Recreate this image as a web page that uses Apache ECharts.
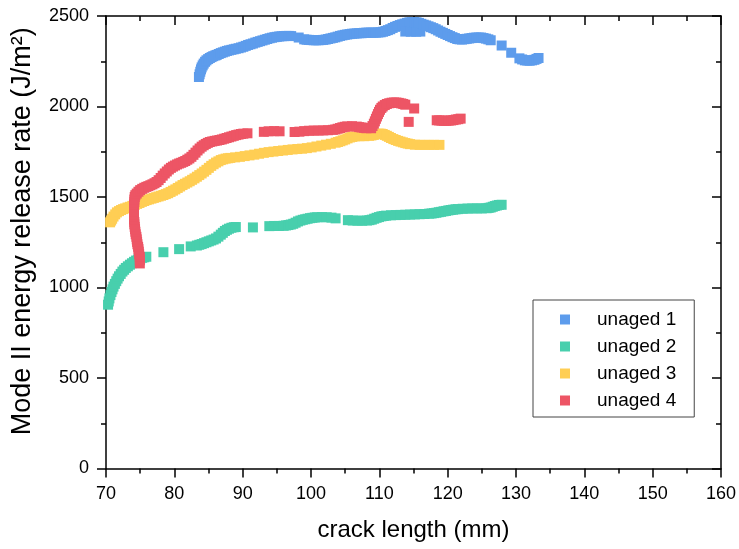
<!DOCTYPE html>
<html>
<head>
<meta charset="utf-8">
<script src="https://cdn.jsdelivr.net/npm/echarts@6/dist/echarts.min.js"></script>
<style>html,body{margin:0;padding:0;background:#fff;}#c{width:739px;height:549px;}</style>
</head>
<body>
<div id="c"></div>
<script>
var seriesNames = ['unaged 1', 'unaged 2', 'unaged 3', 'unaged 4'];
var seriesColors = ['#5D9CEC', '#48CFAD', '#FFCE54', '#ED5565'];
var xTicks = [70, 80, 90, 100, 110, 120, 130, 140, 150, 160];
var yTicks = [0, 500, 1000, 1500, 2000, 2500];

var unaged1 = [
[83.6,2163],[83.7,2178],[83.8,2192],[83.9,2205],[84.0,2216],[84.15,2227],[84.3,2237],[84.5,2247],[84.7,2255],[84.95,2262],[85.2,2268],[85.45,2273],[85.7,2278],[86.0,2282],[86.2,2285],[86.5,2290],
[86.8,2295],[87.1,2299],[87.4,2303],[87.7,2307],[88.0,2310],[88.35,2313],[88.7,2316],[89.0,2319],[89.4,2322],[89.75,2326],[90.1,2330],[90.45,2335],[90.8,2340],[91.15,2344],[91.5,2348],
[91.85,2353],[92.2,2357],[92.55,2361],[92.9,2365],[93.25,2369],[93.6,2373],[93.95,2377],[94.3,2380],[94.65,2383],[95.0,2385],[95.35,2387],[95.7,2388],[96.05,2389],[96.4,2390],[96.75,2390],[97.1,2389],
[98.2,2381],[99.0,2371],[99.35,2369],[99.7,2368],[100.05,2367],[100.4,2366],[100.75,2366],[101.1,2366],[101.45,2367],[101.8,2368],[102.15,2370],[102.5,2373],[102.85,2376],[103.2,2379],
[103.55,2382],[103.9,2386],[104.25,2390],[104.6,2393],[104.95,2396],[105.3,2398],[105.65,2400],[106.0,2402],[106.35,2403],[106.7,2404],[107.05,2405],[107.4,2405],[107.75,2407],[108.1,2408],[108.45,2408],[108.8,2408],
[109.15,2408],[109.5,2408],[109.85,2409],[110.2,2410],[110.55,2413],[110.9,2417],[111.25,2422],[111.6,2427],[111.95,2434],[112.3,2440],[112.65,2445],[113.0,2450],[113.35,2454],[113.7,2458],[114.05,2462],[114.4,2465],
[113.8,2414],[114.6,2413],[115.4,2413],[116.0,2414],
[114.75,2466],[115.1,2467],[115.45,2465],[115.8,2462],[116.15,2457],[116.5,2452],[116.85,2448],[117.2,2443],[117.55,2438],[117.9,2433],[118.25,2427],[118.6,2420],[118.95,2413],[119.3,2407],[119.65,2401],[120.0,2395],
[120.35,2389],[120.7,2383],[121.05,2378],[121.4,2373],[121.75,2371],[122.1,2370],[122.45,2372],[122.8,2374],[123.15,2376],[123.5,2378],[123.85,2380],[124.2,2381],[124.55,2381],[124.9,2381],[125.25,2378],[125.6,2375],
[125.95,2371],[126.3,2366],[127.9,2337],[129.3,2297],[130.5,2266],[130.9,2260],[131.3,2255],[131.65,2254],[132.0,2253],[132.35,2255],[132.7,2258],[133.0,2263],[133.3,2268]
];
var unaged2 = [
[70.3,905],[70.4,923],[70.5,940],[70.65,958],[70.8,975],[70.95,990],[71.1,1005],[71.3,1020],[71.5,1035],[71.7,1049],[71.9,1062],[72.15,1075],[72.4,1088],[72.65,1098],[72.9,1108],[73.2,1117],
[73.5,1126],[73.8,1134],[74.1,1142],[74.4,1149],[74.7,1155],[75.0,1160],[75.3,1164],[75.6,1167],[75.9,1170],
[78.4,1195],[80.7,1212],[82.4,1227],
[83.3,1232],[83.65,1236],[84.0,1240],[84.35,1245],[84.7,1250],[85.05,1255],[85.4,1260],[85.75,1265],[86.1,1271],[86.45,1281],[86.8,1292],[87.1,1302],[87.4,1312],[87.7,1319],[88.0,1325],
[88.35,1330],[88.7,1333],[89.0,1334],
[91.5,1332],
[93.9,1339],[94.6,1340],[95.3,1340],[96.0,1341],[96.35,1343],[96.7,1345],[97.05,1348],[97.4,1352],[97.75,1358],[98.1,1365],[98.45,1370],[98.8,1374],
[99.15,1377],[99.5,1380],[99.85,1383],[100.2,1385],[100.55,1387],[100.9,1388],[101.6,1389],[102.3,1388],[103.0,1386],[103.6,1382],
[105.4,1372],[106.1,1370],[106.8,1369],[107.5,1369],[108.2,1370],[108.55,1372],[108.9,1375],[109.25,1380],[109.6,1385],[109.95,1389],[110.3,1393],
[110.65,1395],[111.0,1397],[111.7,1399],[112.4,1400],[113.1,1401],[113.8,1402],[114.5,1403],[115.2,1404],[115.9,1405],
[116.6,1406],[117.3,1408],[117.65,1409],[118.0,1411],[118.35,1413],[118.7,1416],[119.05,1418],[119.4,1421],[119.75,1423],[120.1,1426],[120.45,1428],[120.8,1430],[121.15,1432],[121.5,1433],
[122.2,1435],[122.9,1436],[123.6,1437],[124.3,1437],[125.0,1437],[125.7,1438],[126.0,1440],[126.3,1442],[126.6,1446],[126.9,1450],[127.2,1453],
[127.5,1456],[127.9,1457]
];
var unaged3 = [
[70.6,1360],[70.75,1370],[70.9,1380],[71.1,1392],[71.35,1404],[71.6,1415],[71.9,1422],[72.2,1428],[72.5,1433],[72.8,1437],[73.15,1442],[73.5,1446],[73.85,1451],[74.2,1456],[74.55,1462],[74.9,1467],
[75.25,1473],[75.6,1478],[75.95,1483],[76.3,1487],[76.65,1491],[77.0,1495],[77.35,1499],[77.7,1503],[78.05,1507],[78.4,1511],[78.75,1516],[79.1,1521],[79.45,1528],[79.8,1535],[80.15,1542],[80.5,1550],
[80.85,1558],[81.2,1566],[81.55,1573],[81.9,1580],[82.25,1587],[82.6,1595],[82.95,1603],[83.3,1612],[83.65,1621],[84.0,1630],[84.35,1640],[84.7,1650],[85.05,1661],[85.4,1672],[85.75,1681],[86.1,1690],
[86.45,1697],[86.8,1704],[87.15,1708],[87.5,1712],[87.85,1714],[88.2,1716],[88.9,1719],[89.6,1722],[90.3,1726],[91.0,1730],[91.7,1734],
[92.4,1739],[93.1,1744],[93.8,1748],[94.5,1751],[95.2,1754],[95.9,1757],[96.6,1760],[97.3,1763],
[98.0,1765],[98.7,1767],[99.4,1770],[100.1,1774],[100.8,1779],[101.5,1784],[102.2,1789],[102.9,1794],
[103.6,1800],[103.95,1804],[104.3,1808],[104.65,1813],[105.0,1818],[105.35,1824],[105.7,1829],[106.05,1832],[106.4,1835],[107.1,1836],[107.8,1836],[108.5,1838],
[108.85,1840],[109.2,1843],[109.55,1847],[109.9,1850],[110.2,1850],[110.5,1848],[110.8,1843],[111.1,1838],[111.4,1832],[111.7,1826],[112.05,1820],[112.4,1815],[112.75,1810],[113.1,1806],[113.45,1802],[113.8,1798],
[114.15,1795],[114.5,1792],[115.2,1789],[115.9,1788],[116.6,1788],[117.3,1788],[118.0,1788],[118.8,1788]
];
var unaged4 = [
[74.95,1133],[74.95,1151],[74.95,1169],[74.85,1184],[74.8,1198],[74.75,1212],[74.7,1225],[74.6,1239],[74.55,1252],[74.5,1266],[74.45,1280],[74.35,1294],[74.3,1308],[74.25,1322],[74.2,1335],
[74.15,1349],[74.15,1362],[74.1,1376],[74.1,1390],[74.1,1404],[74.1,1418],[74.1,1432],[74.1,1445],[74.1,1459],[74.15,1472],[74.15,1486],[74.2,1500],[74.3,1510],[74.5,1519],[74.75,1529],[75.0,1538],
[75.3,1545],[75.6,1551],[75.9,1556],[76.2,1560],[76.5,1565],[76.8,1570],[77.1,1576],[77.4,1583],[77.7,1593],[78.0,1605],[78.3,1618],[78.6,1630],[78.9,1641],[79.2,1652],[79.5,1661],[79.8,1668],
[80.1,1674],[80.4,1680],[80.7,1685],[81.0,1689],[81.3,1694],[81.6,1699],[81.9,1706],[82.2,1713],[82.5,1722],[82.8,1733],[83.1,1745],[83.4,1757],[83.7,1768],[84.0,1778],[84.3,1786],[84.6,1793],
[84.9,1799],[85.2,1804],[85.55,1807],[85.9,1810],[86.25,1812],[86.6,1815],[86.95,1818],[87.3,1822],[87.65,1826],[88.0,1830],[88.35,1834],[88.7,1838],[89.05,1842],[89.4,1845],[89.75,1848],[90.1,1850],
[90.7,1852],
[93.1,1860],[93.8,1863],[94.6,1864],[95.4,1863],
[97.6,1859],[98.3,1861],[99.0,1864],[99.7,1866],[100.4,1867],[101.1,1867],[101.8,1868],[102.5,1869],
[103.2,1871],[103.55,1873],[103.9,1877],[104.25,1881],[104.6,1885],[104.95,1888],[105.3,1890],[106.0,1891],[106.7,1889],[107.05,1886],[107.4,1884],[107.75,1882],[108.1,1880],
[108.8,1880],[109.0,1892],[109.2,1905],[109.35,1918],[109.5,1932],[109.65,1945],[109.8,1958],[109.95,1970],[110.1,1982],[110.3,1992],[110.5,2000],[110.8,2008],[111.1,2014],[111.45,2018],[111.8,2021],
[112.15,2022],[112.5,2022],[112.85,2020],[113.2,2017],[113.5,2014],[113.8,2010],
[115.1,1989],[114.3,1915],
[118.4,1924],[118.75,1923],[119.1,1922],[119.45,1921],[119.8,1921],[120.15,1922],[120.5,1923],[120.85,1925],[121.2,1928],[121.55,1930],[121.9,1933]
];

var dataSets = [unaged1, unaged2, unaged3, unaged4];
var FONT = '"Liberation Sans", Arial, sans-serif';

var axisLine = { show: true, onZero: false, lineStyle: { color: '#000', width: 1.5 } };
function plain(v) { return String(v); }
function xAxis(pos, primary) {
  return {
    type: 'value', position: pos, min: xTicks[0], max: xTicks[xTicks.length - 1], interval: 10,
    axisLine: axisLine,
    axisTick: { show: true, inside: !primary, length: 9, lineStyle: { color: '#000', width: 1.5 } },
    minorTick: { show: true, splitNumber: 2, length: 5, lineStyle: { color: '#000', width: 1.5 } },
    splitLine: { show: false }, minorSplitLine: { show: false },
    axisLabel: { show: primary, fontSize: 18, fontFamily: FONT, color: '#000', margin: 17, formatter: plain },
    name: primary ? 'crack length (mm)' : '', nameLocation: 'middle', nameGap: 50,
    nameTextStyle: { fontSize: 24, fontFamily: FONT, color: '#000' }
  };
}
function yAxis(pos, primary) {
  return {
    type: 'value', position: pos, min: yTicks[0], max: yTicks[yTicks.length - 1], interval: 500,
    axisLine: axisLine,
    axisTick: { show: true, inside: !primary, length: 9, lineStyle: { color: '#000', width: 1.5 } },
    minorTick: { show: true, splitNumber: 2, length: 5, lineStyle: { color: '#000', width: 1.5 } },
    splitLine: { show: false }, minorSplitLine: { show: false },
    axisLabel: { show: primary, fontSize: 18, fontFamily: FONT, color: '#000', margin: 17, formatter: plain },
    name: primary ? 'Mode II energy release rate (J/m²)' : '', nameLocation: 'middle', nameGap: 70,
    nameTextStyle: { fontSize: 27, fontFamily: FONT, color: '#000', padding: [0, 0, 0, 22] }
  };
}

var chart = echarts.init(document.getElementById('c'), null, { renderer: 'canvas' });
chart.setOption({
  animation: false,
  backgroundColor: '#fff',
  grid: { left: 106, top: 16, right: 15, bottom: 80.5, containLabel: false },
  xAxis: [xAxis('bottom', true), xAxis('top', false)],
  yAxis: [yAxis('left', true), yAxis('right', false)],
  legend: {
    orient: 'vertical', left: 533, top: 300,
    padding: [10, 18, 7, 27], itemGap: 8, itemWidth: 10, itemHeight: 10,
    icon: 'rect',
    borderColor: '#444', borderWidth: 1, borderRadius: 0,
    data: seriesNames,
    textStyle: { fontSize: 19, fontFamily: FONT, color: '#000', padding: [0, 0, 0, 22] }
  },
  series: dataSets.map(function (d, i) {
    return {
      type: 'scatter', name: seriesNames[i], data: d,
      xAxisIndex: 0, yAxisIndex: 0,
      symbol: 'rect', symbolSize: 10,
      itemStyle: { color: seriesColors[i], opacity: 1 },
      emphasis: { disabled: true }
    };
  })
});
</script>
</body>
</html>
